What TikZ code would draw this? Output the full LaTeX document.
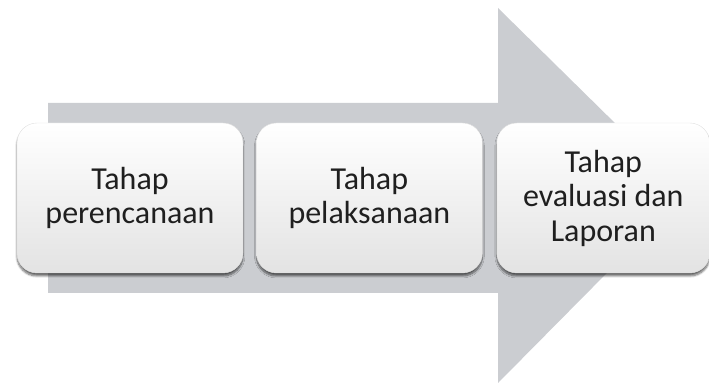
\documentclass[tikz,border=0pt]{standalone}
\usepackage{fontspec}
\setmainfont{Carlito}
\usepackage{tikz}
\usetikzlibrary{positioning, shadows.blur}
\definecolor{arrowgray}{RGB}{203,205,209}
\tikzset{
    big_arrow/.style={fill=arrowgray, draw=none},
    stage_box/.style={rounded corners=20pt, draw=black!12, thin,
        top color=white, middle color=white, bottom color=black!11,
        minimum width=226pt, minimum height=150pt, inner sep=0pt,
        align=center, text=black!88, font=\fontsize{32}{34.5}\selectfont,
        blur shadow={shadow xshift=0pt, shadow yshift=-3pt, shadow opacity=60, shadow blur steps=8}}
}

\begin{document}
\begin{tikzpicture}[x=1pt, y=1pt]
    \useasboundingbox (0,0) rectangle (709,385);
    % Background arrow
    \fill[big_arrow] (48,92) -- (48,282) -- (498,282) -- (498,377) -- (686,192) -- (498,2) -- (498,92) -- cycle;
    % Stages
    \node[stage_box] (plan) at (130,187) {Tahap\\perencanaan};
    \node[stage_box, right=13pt of plan] (exec) {Tahap\\pelaksanaan};
    \node[stage_box, minimum width=213pt, right=14pt of exec] (eval) {Tahap\\evaluasi dan\\Laporan};
\end{tikzpicture}
\end{document}
